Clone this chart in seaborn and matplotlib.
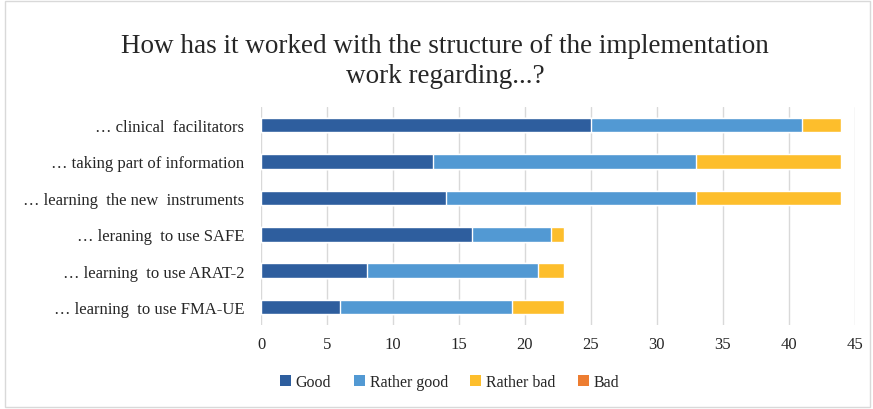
import matplotlib
matplotlib.use("Agg")
import matplotlib.pyplot as plt
from matplotlib.patches import Rectangle, Patch
import seaborn as sns
import pandas as pd

categories = [
    "\u2026 clinical  facilitators",
    "\u2026 taking part of information",
    "\u2026 learning  the new  instruments",
    "\u2026 leraning  to use SAFE",
    "\u2026 learning  to use ARAT-2",
    "\u2026 learning  to use FMA-UE",
]
series = ["Good", "Rather good", "Rather bad", "Bad"]
good = [25, 13, 14, 16, 8, 6]
rather_good = [16, 20, 19, 6, 13, 13]
rather_bad = [3, 11, 11, 1, 2, 4]
bad = [0, 0, 0, 0, 0, 0]
colors = ["#2E5E9E", "#5299D3", "#FDBE2C", "#ED7D31"]
xticks = [0, 5, 10, 15, 20, 25, 30, 35, 40, 45]

sns.set_theme(style="white")
plt.rcParams["font.family"] = ["Liberation Serif", "DejaVu Serif"]

df = pd.DataFrame({"category": categories, "Good": good, "Rather good": rather_good,
                   "Rather bad": rather_bad, "Bad": bad})
# cumulative totals so each segment can be layered from the back
cum = df[series].cumsum(axis=1)
cum["category"] = df["category"]

fig = plt.figure(figsize=(8.73, 4.10), dpi=100)
ax = fig.add_axes([0.299, 0.204, 0.68, 0.533])

for name, col in reversed(list(zip(series, colors))):
    sns.barplot(data=cum, y="category", x=name, orient="h", color=col,
                width=0.4, saturation=1, ax=ax, zorder=3)

ax.set_xlim(0, 45)
ax.set_ylim(5.5, -0.5)
ax.set_xticks(xticks)
ax.set_xlabel("")
ax.set_ylabel("")
ax.grid(axis="x", color="#D9D9D9", linewidth=1, zorder=0)
for s in ax.spines.values():
    s.set_visible(False)
ax.tick_params(axis="x", length=0, labelsize=12, colors="#262626", pad=8)
ax.tick_params(axis="y", length=0, labelsize=12, colors="#262626", pad=12)

fig.text(0.51, 0.85, "How has it worked with the structure of the implementation\nwork regarding...?",
         ha="center", va="center", fontsize=19.5, color="#262626", linespacing=1.28)

handles = [Patch(facecolor=c, edgecolor="none") for c in colors]
fig.legend(handles, series, loc="center", bbox_to_anchor=(0.515, 0.065), ncol=4,
           frameon=False, fontsize=11.5, handlelength=0.7, handleheight=0.7,
           handletextpad=0.3, columnspacing=1.4)

fig.patches.append(Rectangle((0.006, 0.005), 0.99, 0.99, transform=fig.transFigure,
                             fill=False, edgecolor="#D9D9D9", linewidth=1))

fig.savefig("out.png", dpi=100)
